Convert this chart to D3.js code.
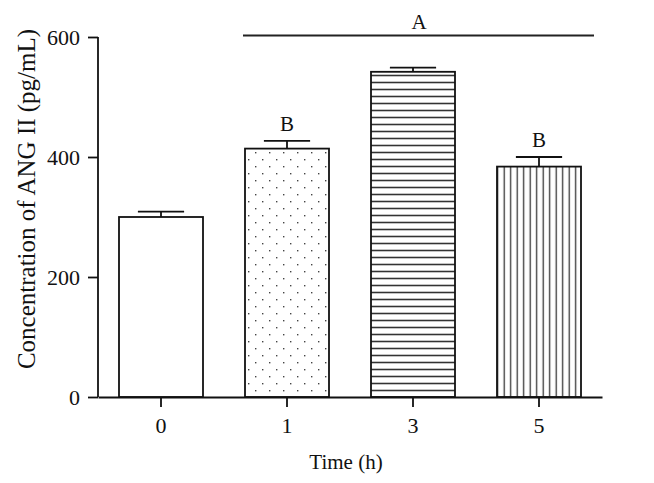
<!DOCTYPE html>
<html>
<head>
<meta charset="utf-8">
<script src="https://cdn.jsdelivr.net/npm/d3@7"></script>
<style>
  body { margin: 0; background: #fff; }
  text { font-family: "Liberation Serif", "DejaVu Serif", serif; fill: #111; }
</style>
</head>
<body>
<svg id="chart" width="654" height="483"></svg>
<script>
// data
const times = ["0", "1", "3", "5"];
const means = [300, 414, 542, 384];
const errors = [9, 13, 7, 16];
const patterns = ["none", "dots", "hlines", "vlines"];
const letters = ["", "B", "", "B"];
const yTicks = [0, 200, 400, 600];

const svg = d3.select("#chart");
const margin = {left: 98, right: 52, top: 37, bottom: 86};
const w = 654 - margin.left - margin.right;
const h = 483 - margin.top - margin.bottom;

// hatch patterns
const defs = svg.append("defs");
const dots = defs.append("pattern").attr("id", "dots")
  .attr("patternUnits", "userSpaceOnUse").attr("width", 14).attr("height", 14);
dots.append("rect").attr("x", 3).attr("y", 3).attr("width", 1.4).attr("height", 1.4).attr("fill", "#444");
dots.append("rect").attr("x", 10).attr("y", 10).attr("width", 1.4).attr("height", 1.4).attr("fill", "#444");

const hl = defs.append("pattern").attr("id", "hlines")
  .attr("patternUnits", "userSpaceOnUse").attr("width", 10).attr("height", 7);
hl.append("line").attr("x1", 0).attr("x2", 10).attr("y1", 3.5).attr("y2", 3.5)
  .attr("stroke", "#333").attr("stroke-width", 1.6);

const vl = defs.append("pattern").attr("id", "vlines")
  .attr("patternUnits", "userSpaceOnUse").attr("width", 6.5).attr("height", 10);
vl.append("line").attr("x1", 3.2).attr("x2", 3.2).attr("y1", 0).attr("y2", 10)
  .attr("stroke", "#333").attr("stroke-width", 1.3);

const g = svg.append("g").attr("transform", `translate(${margin.left},${margin.top})`);

const x = d3.scaleBand().domain(times).range([0, w]).paddingInner(1/3).paddingOuter(1/6);
const y = d3.scaleLinear().domain([0, 600]).range([h, 0]);

// bars
g.selectAll("rect.bar")
  .data(times)
  .join("rect")
  .attr("class", "bar")
  .attr("x", d => x(d))
  .attr("y", (d, i) => y(means[i]))
  .attr("width", x.bandwidth())
  .attr("height", (d, i) => h - y(means[i]))
  .attr("fill", (d, i) => patterns[i] == "none" ? "#fff" : `url(#${patterns[i]})`)
  .attr("stroke", "#111")
  .attr("stroke-width", 1.8);

// upper error bars
const capW = x.bandwidth() * 0.55;
g.selectAll("line.err")
  .data(times)
  .join("line")
  .attr("class", "err")
  .attr("x1", d => x(d) + x.bandwidth() / 2)
  .attr("x2", d => x(d) + x.bandwidth() / 2)
  .attr("y1", (d, i) => y(means[i]))
  .attr("y2", (d, i) => y(means[i] + errors[i]))
  .attr("stroke", "#111").attr("stroke-width", 1.8);
g.selectAll("line.cap")
  .data(times)
  .join("line")
  .attr("class", "cap")
  .attr("x1", d => x(d) + x.bandwidth() / 2 - capW / 2)
  .attr("x2", d => x(d) + x.bandwidth() / 2 + capW / 2)
  .attr("y1", (d, i) => y(means[i] + errors[i]))
  .attr("y2", (d, i) => y(means[i] + errors[i]))
  .attr("stroke", "#111").attr("stroke-width", 1.8);

// significance letters
g.selectAll("text.letter")
  .data(times)
  .join("text")
  .attr("class", "letter")
  .attr("x", d => x(d) + x.bandwidth() / 2)
  .attr("y", (d, i) => y(means[i] + errors[i]) - 10)
  .attr("text-anchor", "middle")
  .style("font-size", "21px")
  .text((d, i) => letters[i]);

// "A" bracket over 1..5
g.append("line")
  .attr("x1", x("1") - 2).attr("x2", x("5") + x.bandwidth() + 13)
  .attr("y1", -1.5).attr("y2", -1.5)
  .attr("stroke", "#222").attr("stroke-width", 1.8);
g.append("text")
  .attr("x", (x("1") + x("5") + x.bandwidth() + 12) / 2)
  .attr("y", -8)
  .attr("text-anchor", "middle")
  .style("font-size", "21px")
  .text("A");

// axes
const yAxis = g.append("g")
  .call(d3.axisLeft(y).tickValues(yTicks).tickSize(10).tickPadding(8));
const xAxis = g.append("g").attr("transform", `translate(0,${h})`)
  .call(d3.axisBottom(x).tickSize(10).tickPadding(10).tickSizeOuter(0));
[yAxis, xAxis].forEach(a => {
  a.select(".domain").attr("stroke", "#111").attr("stroke-width", 1.8);
  a.selectAll(".tick line").attr("stroke", "#111").attr("stroke-width", 1.8);
  a.selectAll(".tick text").style("font-size", "22px").attr("fill", "#111")
    .style("font-family", '"Liberation Serif", serif');
});
yAxis.select(".domain").attr("d", `M0,${h}V0`);

// axis titles
svg.append("text")
  .attr("transform", `translate(35,199) rotate(-90)`)
  .attr("text-anchor", "middle")
  .style("font-size", "25px")
  .text("Concentration of ANG II (pg/mL)");
svg.append("text")
  .attr("x", margin.left + w / 2 - 4)
  .attr("y", 469)
  .attr("text-anchor", "middle")
  .style("font-size", "21px")
  .text("Time (h)");
</script>
</body>
</html>
